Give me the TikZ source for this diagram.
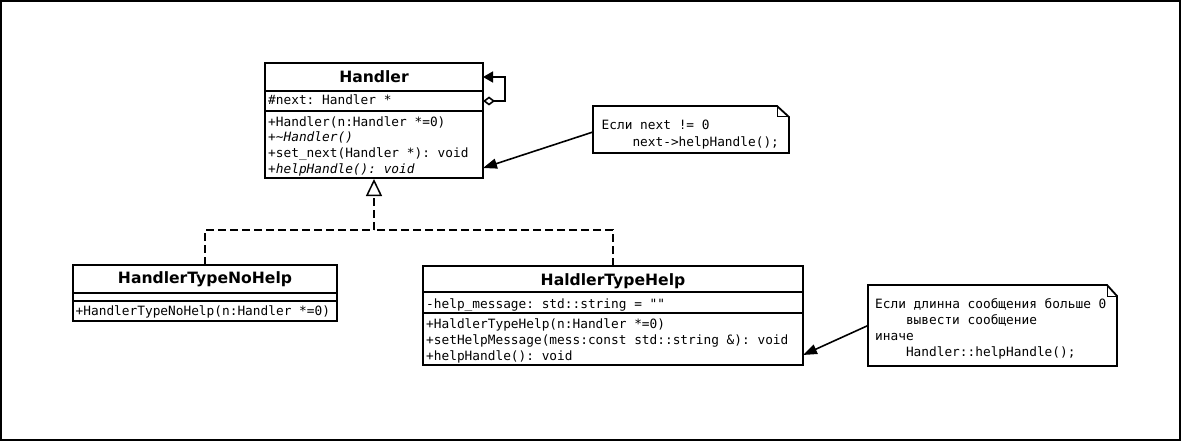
\documentclass[tikz,border=0pt]{standalone}
\usepackage{fontspec}
\newfontfamily\mono{DejaVu Sans Mono}
\newfontfamily\titlefont{DejaVu Sans}
\usetikzlibrary{arrows.meta}
\newcommand\myindent{\hspace*{30.8pt}}
\frenchspacing
\begin{document}
\begin{tikzpicture}[x=1pt,y=-1pt,
  cls/.style={draw, line width=1.8pt, anchor=north west, inner sep=0pt, outer sep=0pt, fill=white},
  sepline/.style={line width=1.8pt},
  ttl/.style={font=\fontsize{15.6}{18}\titlefont\bfseries, anchor=base, inner sep=0pt},
  mem/.style={font=\fontsize{12.8}{15}\mono\frenchspacing, anchor=base west, inner sep=0pt},
  notebox/.style={draw=none, anchor=north west, inner sep=0pt, outer sep=0pt},
  noteline/.style={line width=1.8pt, line join=miter},
  fold/.style={line width=1pt},
  conn/.style={line width=1.6pt},
  dashline/.style={line width=1.6pt, dash pattern=on 8pt off 4pt},
]
\useasboundingbox (0,0) rectangle (1181,441);
\fill[white] (0,0) rectangle (1181,441);
\draw[line width=2pt] (1,1) rectangle (1180,440);

% Handler
\node[cls, minimum width=218pt, minimum height=115pt] (handler) at (265,63) {};
\draw[sepline] ([yshift=-28pt]handler.north west) -- ([yshift=-28pt]handler.north east);
\draw[sepline] ([yshift=-48pt]handler.north west) -- ([yshift=-48pt]handler.north east);
\node[ttl] (handlerT) at (374,82.3) {Handler};
\node[mem] (handlerA) at (268,104.3) {\#next: Handler *};
\node[mem] (handlerM1) at (268,126.5) {+Handler(n:Handler *=0)};
\node[mem] (handlerM2) at (268,142) {\itshape +\textasciitilde Handler()};
\node[mem] (handlerM3) at (268,157.5) {+set\_next(Handler *): void};
\node[mem] (handlerM4) at (268,173) {\itshape +helpHandle(): void};

% HandlerTypeNoHelp
\node[cls, minimum width=264pt, minimum height=56pt] (nohelp) at (73,265) {};
\draw[sepline] ([yshift=-28pt]nohelp.north west) -- ([yshift=-28pt]nohelp.north east);
\draw[sepline] ([yshift=-36pt]nohelp.north west) -- ([yshift=-36pt]nohelp.north east);
\node[ttl] (nohelpT) at (205,283.3) {HandlerTypeNoHelp};
\node[mem] (nohelpM1) at (75.5,315.7) {+HandlerTypeNoHelp(n:Handler *=0)};

% HaldlerTypeHelp
\node[cls, minimum width=380pt, minimum height=99pt] (help) at (423,266) {};
\draw[sepline] ([yshift=-26pt]help.north west) -- ([yshift=-26pt]help.north east);
\draw[sepline] ([yshift=-47pt]help.north west) -- ([yshift=-47pt]help.north east);
\node[ttl] (helpT) at (613,285) {HaldlerTypeHelp};
\node[mem] (helpA) at (426,308.3) {-help\_message: std::string = ""};
\node[mem] (helpM1) at (426,328.3) {+HaldlerTypeHelp(n:Handler *=0)};
\node[mem] (helpM2) at (426,344.3) {+setHelpMessage(mess:const std::string \&): void};
\node[mem] (helpM3) at (426,360) {+helpHandle(): void};

% Note 1
\node[notebox, minimum width=196pt, minimum height=47pt] (note1) at (593,106) {};
\draw[noteline] (note1.north west) -- ([xshift=-12pt]note1.north east) -- ([yshift=-11pt]note1.north east) -- (note1.south east) -- (note1.south west) -- cycle;
\draw[fold] ([xshift=-12pt]note1.north east) |- ([yshift=-11pt]note1.north east);
\node[mem] (note1L1) at (601.5,129.3) {Если next != 0};
\node[mem] (note1L2) at (601.5,146.7) {\myindent next->helpHandle();};

% Note 2
\node[notebox, minimum width=249pt, minimum height=81pt] (note2) at (868,285) {};
\draw[noteline] (note2.north west) -- ([xshift=-10pt]note2.north east) -- ([yshift=-11pt]note2.north east) -- (note2.south east) -- (note2.south west) -- cycle;
\draw[fold] ([xshift=-10pt]note2.north east) |- ([yshift=-11pt]note2.north east);
\node[mem] (note2L1) at (875,308.3) {Если длинна сообщения больше 0};
\node[mem] (note2L2) at (875,324.3) {\myindent вывести сообщение};
\node[mem] (note2L3) at (875,340.7) {иначе};
\node[mem] (note2L4) at (875,356.7) {\myindent Handler::helpHandle();};

% Self association
\draw[conn, {Diamond[open,length=12pt,width=9pt]}-{Triangle[length=10pt,width=11pt]}]
  ([yshift=-38pt]handler.north east) -- ++(22,0) |- ([yshift=-14pt]handler.north east);

% Note connectors
\draw[conn, -{Triangle[length=14pt,width=10pt]}] ([yshift=-2.5pt]note1.west) -- ([yshift=10pt]handler.south east);
\draw[conn, -{Triangle[length=14pt,width=10pt]}] (note2.west) -- ([yshift=10pt]help.south east);

% Generalization
\coordinate (gen) at (374,230);
\draw[dashline] (nohelp.north) |- (gen);
\draw[dashline] (help.north) |- (gen);
\draw[dashline, -{Triangle[open,length=17pt,width=16pt,fill=white,line width=1.5pt]}] (gen) -- ([yshift=-1pt]handler.south);
\end{tikzpicture}
\end{document}
